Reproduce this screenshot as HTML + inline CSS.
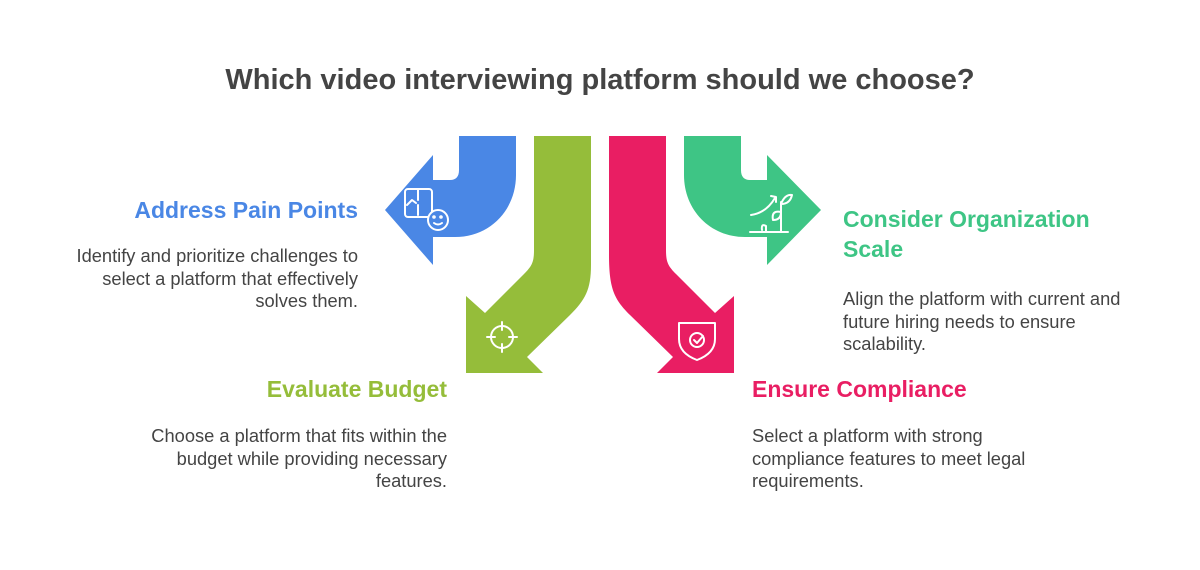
<!DOCTYPE html>
<html><head><meta charset="utf-8"><style>
body{margin:0;width:1200px;height:570px;background:#fff;font-family:"Liberation Sans",Arial,sans-serif;position:relative;overflow:hidden}
.t{position:absolute;white-space:nowrap}
.h{font-weight:bold;font-size:23px}
.d{font-size:18.3px;color:#444;line-height:22.5px}
.r{text-align:right}
</style></head><body>
<div class="t" style="left:0;width:1200px;text-align:center;top:64px;font-size:29px;font-weight:bold;color:#444">Which video interviewing platform should we choose?</div>
<svg width="1200" height="570" style="position:absolute;left:0;top:0">
<path fill="#4a87e5" d="M459,136 L516,136 L516,175 C516,210 490,237 455,237 L433,237 L433,265 L385,210 L433,155 L433,180 L450,180 Q459,180 459,170 Z"/>
<path fill="#3ec585" d="M741,136 L684,136 L684,175 C684,210 710,237 745,237 L767,237 L767,265 L821,210 L767,155 L767,180 L750,180 Q741,180 741,170 Z"/>
<path fill="#95bd3a" d="M534,136 L591,136 L591,265 C591,290 585,300 570,315 L527,357 L543,373 L466,373 L466,296 L485,313 L524,274 C532,266 534,262 534,250 Z"/>
<path fill="#e91e63" transform="translate(1200,0) scale(-1,1)" d="M534,136 L591,136 L591,255 C591,290 585,300 570,315 L527,357 L543,373 L466,373 L466,296 L485,313 L524,274 C532,266 534,262 534,250 Z"/>
<g fill="none" stroke="#fff" stroke-width="2" stroke-linecap="round" stroke-linejoin="round">
<rect x="405" y="189" width="27" height="28" rx="3"/>
<path d="M407,205 l5,-5 l4,3"/><path d="M418,190 v10 M418,205 v10"/>
<circle cx="438" cy="220" r="10" fill="#4a87e5"/><circle cx="434" cy="217" r=".8"/><circle cx="441" cy="217" r=".8"/><path d="M434,223 q4,3 8,0"/>
<circle cx="502" cy="337" r="11"/><path d="M502,322 v8 M502,344 v8 M487,337 h8 M509,337 h8"/>
<path d="M679,323 h36 v16 c0,12 -10,18 -18,21 c-8,-3 -18,-9 -18,-21 Z"/><circle cx="697" cy="340" r="7"/><path d="M694,340 l3,3 l6,-7"/>
<path d="M751,215 q15,-2 24,-17 M771,196 l5,1 l0,5"/><path d="M750,232 h38 M781,232 v-30 M781,212 q-10,-2 -8,8 q8,0 8,-8 M781,204 q4,-10 11,-9 q-2,9 -11,9"/><path d="M766,232 v-6 q-5,-3 -4,4"/>
</g>
</svg>
<div class="t h r" style="right:842px;top:197px;color:#4a87e5">Address Pain Points</div>
<div class="t d r" style="right:842px;top:245px">Identify and prioritize challenges to<br>select a platform that effectively<br>solves them.</div>
<div class="t h" style="left:843px;top:204px;color:#3ec585;line-height:30px">Consider Organization<br>Scale</div>
<div class="t d" style="left:843px;top:288px">Align the platform with current and<br>future hiring needs to ensure<br>scalability.</div>
<div class="t h r" style="right:753px;top:376px;color:#95bd3a">Evaluate Budget</div>
<div class="t d r" style="right:753px;top:425px">Choose a platform that fits within the<br>budget while providing necessary<br>features.</div>
<div class="t h" style="left:752px;top:376px;color:#e91e63">Ensure Compliance</div>
<div class="t d" style="left:752px;top:425px">Select a platform with strong<br>compliance features to meet legal<br>requirements.</div>
</body></html>
